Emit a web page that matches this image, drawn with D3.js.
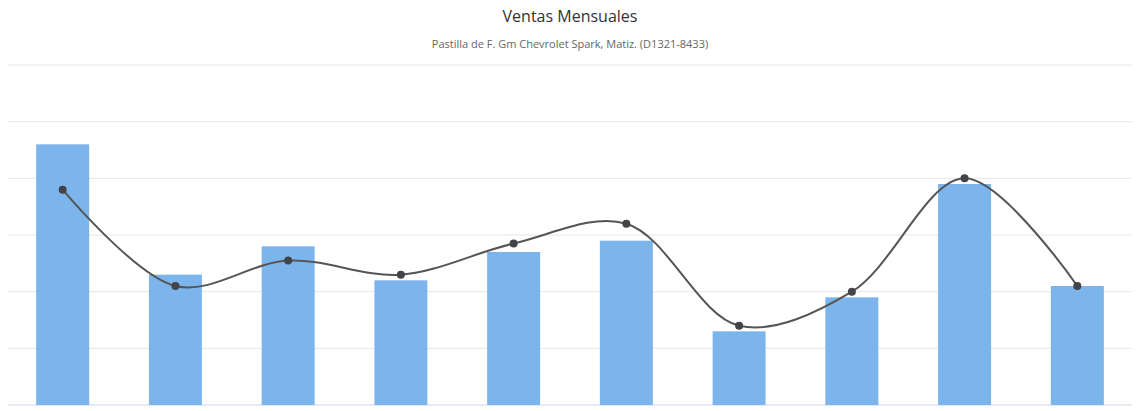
<!DOCTYPE html><html><head><meta charset="utf-8"><script src="https://cdn.jsdelivr.net/npm/d3@7"></script>
<style>body{margin:0;background:#fff}</style></head><body><svg id="c" width="1140" height="411"></svg>
<script>
const categories=["Ene","Feb","Mar","Abr","May","Jun","Jul","Ago","Sep","Oct"];
const barValues=[46,23,28,22,27,29,13,19,39,21];
const lineValues=[38,21,25.5,23,28.5,32,14,20,40,21];
const yTicks=[0,10,20,30,40,50,60];
const svg=d3.select("#c"),font="'Open Sans', sans-serif";
const x=d3.scaleBand().domain(categories).range([8,1132]).paddingInner(0.53).paddingOuter(0.25);
const y=d3.scaleLinear().domain([0,60]).range([405,65]);
svg.append("g").selectAll("line").data(yTicks).join("line").attr("x1",8).attr("x2",1132)
 .attr("y1",d=>y(d)).attr("y2",d=>y(d)).attr("stroke",d=>d===0?"#ccd6eb":"#e6e6e6");
svg.append("g").selectAll("rect").data(barValues).join("rect").attr("x",(d,i)=>x(categories[i]))
 .attr("width",x.bandwidth()).attr("y",d=>y(d)).attr("height",d=>y(0)-y(d)).attr("fill","#7cb5ec");
const cx=i=>x(categories[i])+x.bandwidth()/2;
svg.append("path").datum(lineValues).attr("d",d3.line().x((d,i)=>cx(i)).y(d=>y(d)).curve(d3.curveCatmullRom.alpha(0.5)))
 .attr("fill","none").attr("stroke","#555").attr("stroke-width",2);
svg.append("g").selectAll("circle").data(lineValues).join("circle").attr("cx",(d,i)=>cx(i)).attr("cy",d=>y(d)).attr("r",4).attr("fill","#434348");
svg.append("text").attr("x",570).attr("y",22).attr("text-anchor","middle").attr("font-family",font).attr("font-size",16).attr("fill","#333").text("Ventas Mensuales");
svg.append("text").attr("x",570).attr("y",48).attr("text-anchor","middle").attr("font-family",font).attr("font-size",11).attr("fill","#666").text("Pastilla de F. Gm Chevrolet Spark, Matiz. (D1321-8433)");
</script></body></html>
